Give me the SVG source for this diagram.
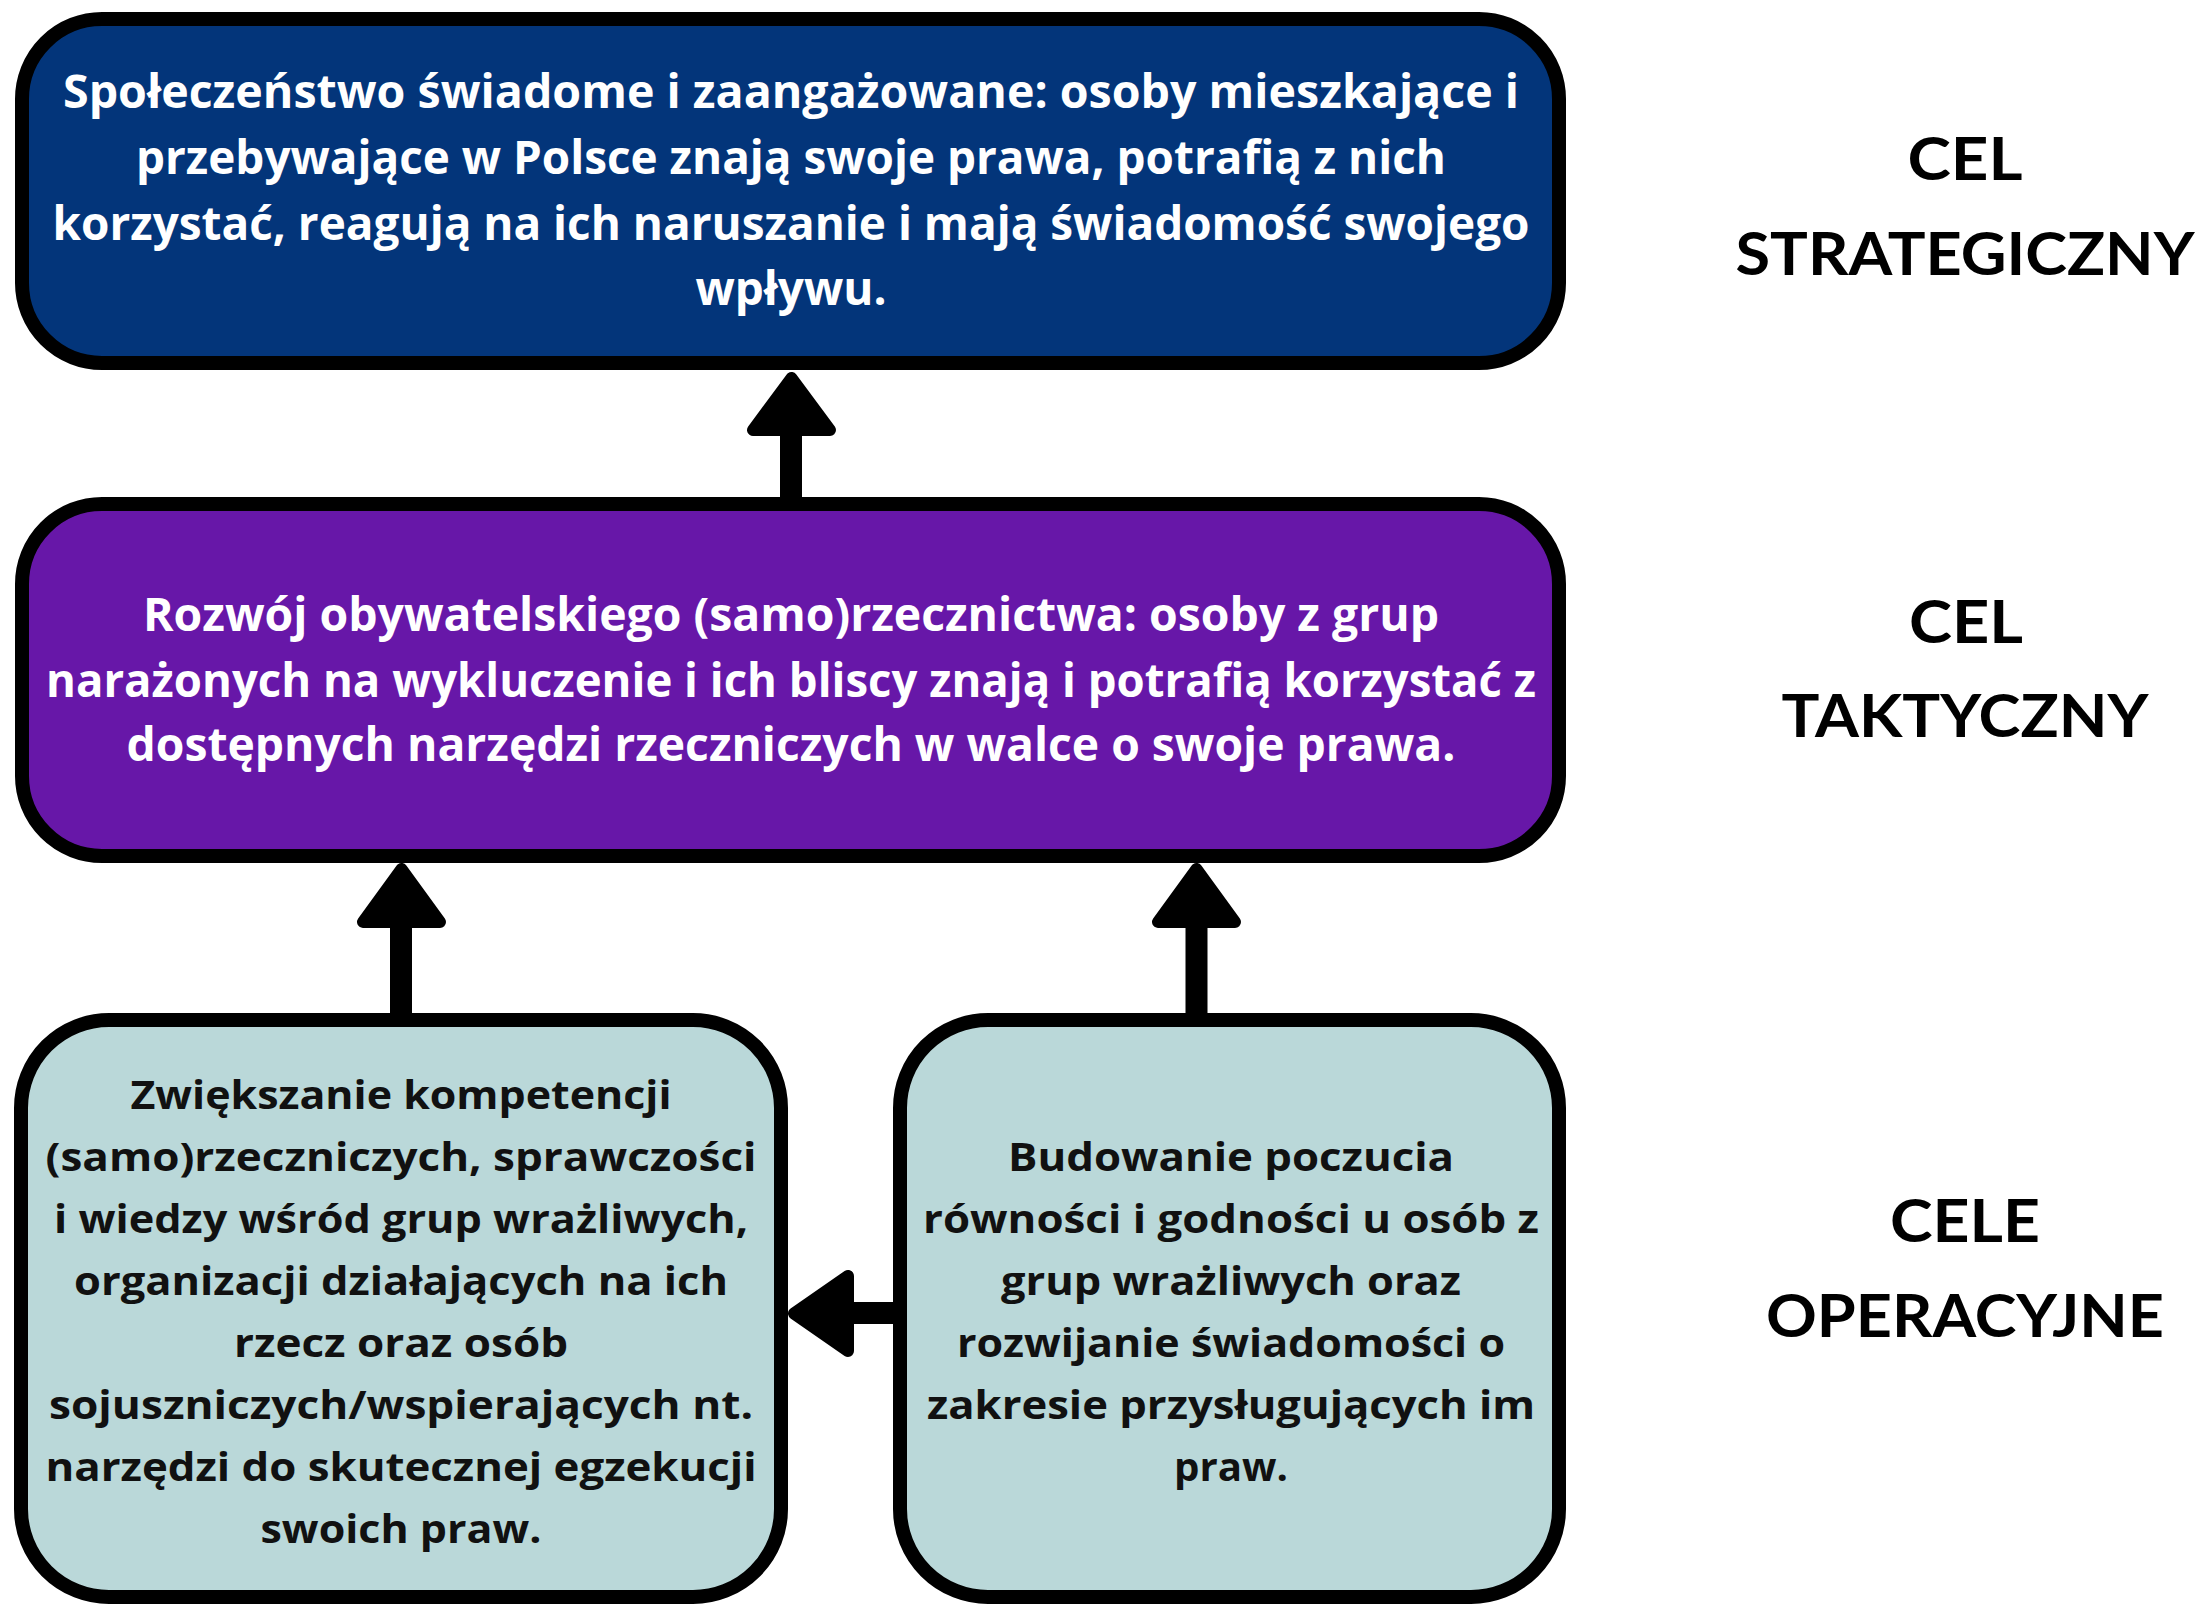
<svg xmlns="http://www.w3.org/2000/svg" width="2201" height="1608" viewBox="0 0 2201 1608">
<style>
.box{stroke:#000;stroke-width:14}
.strat{fill:#03357A}
.takt{fill:#6717A8}
.oper{fill:#BAD8D9}
.t{font-family:"Open Sans","Noto Sans",sans-serif;font-weight:700;text-anchor:middle}
.w{fill:#fff;font-size:46px}
.k{fill:#111;font-size:40px}
.lab{font-family:Lato,"Open Sans",sans-serif;font-weight:700;font-size:60px;fill:#000;text-anchor:middle}
.shaft{fill:none;stroke:#000;stroke-width:22}
.head{fill:#000;stroke:#000;stroke-width:12;stroke-linejoin:round}
</style>
<rect width="2201" height="1608" fill="#fff"/>
<g id="connectors">
  <path class="shaft" d="M791 428 V498"/>
  <polygon class="head" points="791.5,378 753,430 830,430"/>
  <path class="shaft" d="M401 920 V1014"/>
  <polygon class="head" points="401.5,869 363,922 440,922"/>
  <path class="shaft" d="M1196.5 920 V1014"/>
  <polygon class="head" points="1196.5,869 1158,922 1235,922"/>
  <path class="shaft" d="M846 1313 H894"/>
  <polygon class="head" points="794,1313.5 848,1276 848,1351"/>
</g>
<g id="node-strategic">
  <rect class="box strat" x="22" y="19" width="1537" height="344" rx="80" ry="80"/>
  <text class="t w" x="791" y="108" textLength="1456" lengthAdjust="spacingAndGlyphs">Społeczeństwo świadome i zaangażowane: osoby mieszkające i</text>
  <text class="t w" x="791" y="174" textLength="1310" lengthAdjust="spacingAndGlyphs">przebywające w Polsce znają swoje prawa, potrafią z nich</text>
  <text class="t w" x="791" y="240" textLength="1477" lengthAdjust="spacingAndGlyphs">korzystać, reagują na ich naruszanie i mają świadomość swojego</text>
  <text class="t w" x="791" y="305" textLength="191" lengthAdjust="spacingAndGlyphs">wpływu.</text>
</g>
<g id="node-tactical">
  <rect class="box takt" x="22" y="504" width="1537" height="352" rx="80" ry="80"/>
  <text class="t w" x="791" y="631" textLength="1296" lengthAdjust="spacingAndGlyphs">Rozwój obywatelskiego (samo)rzecznictwa: osoby z grup</text>
  <text class="t w" x="791" y="697" textLength="1490" lengthAdjust="spacingAndGlyphs">narażonych na wykluczenie i ich bliscy znają i potrafią korzystać z</text>
  <text class="t w" x="791" y="761" textLength="1329" lengthAdjust="spacingAndGlyphs">dostępnych narzędzi rzeczniczych w walce o swoje prawa.</text>
</g>
<g id="node-oper-1">
  <rect class="box oper" x="21" y="1020" width="760" height="577" rx="88" ry="88"/>
  <text class="t k" x="401" y="1109" textLength="541" lengthAdjust="spacingAndGlyphs">Zwiększanie kompetencji</text>
  <text class="t k" x="401" y="1171" textLength="711" lengthAdjust="spacingAndGlyphs">(samo)rzeczniczych, sprawczości</text>
  <text class="t k" x="401" y="1233" textLength="694" lengthAdjust="spacingAndGlyphs">i wiedzy wśród grup wrażliwych,</text>
  <text class="t k" x="401" y="1295" textLength="654" lengthAdjust="spacingAndGlyphs">organizacji działających na ich</text>
  <text class="t k" x="401" y="1357" textLength="334" lengthAdjust="spacingAndGlyphs">rzecz oraz osób</text>
  <text class="t k" x="401" y="1419" textLength="704" lengthAdjust="spacingAndGlyphs">sojuszniczych/wspierających nt.</text>
  <text class="t k" x="401" y="1481" textLength="711" lengthAdjust="spacingAndGlyphs">narzędzi do skutecznej egzekucji</text>
  <text class="t k" x="401" y="1543" textLength="281" lengthAdjust="spacingAndGlyphs">swoich praw.</text>
</g>
<g id="node-oper-2">
  <rect class="box oper" x="900" y="1020" width="659" height="577" rx="88" ry="88"/>
  <text class="t k" x="1231" y="1171" textLength="446" lengthAdjust="spacingAndGlyphs">Budowanie poczucia</text>
  <text class="t k" x="1231" y="1233" textLength="616" lengthAdjust="spacingAndGlyphs">równości i godności u osób z</text>
  <text class="t k" x="1231" y="1295" textLength="460" lengthAdjust="spacingAndGlyphs">grup wrażliwych oraz</text>
  <text class="t k" x="1231" y="1357" textLength="548" lengthAdjust="spacingAndGlyphs">rozwijanie świadomości o</text>
  <text class="t k" x="1231" y="1419" textLength="608" lengthAdjust="spacingAndGlyphs">zakresie przysługujących im</text>
  <text class="t k" x="1231" y="1481" textLength="114" lengthAdjust="spacingAndGlyphs">praw.</text>
</g>
<g id="label-strategic">
  <text class="lab" x="1965" y="180" textLength="115" lengthAdjust="spacingAndGlyphs">CEL</text>
  <text class="lab" x="1965" y="275" textLength="459" lengthAdjust="spacingAndGlyphs">STRATEGICZNY</text>
</g>
<g id="label-tactical">
  <text class="lab" x="1966" y="643" textLength="114" lengthAdjust="spacingAndGlyphs">CEL</text>
  <text class="lab" x="1965" y="737" textLength="367" lengthAdjust="spacingAndGlyphs">TAKTYCZNY</text>
</g>
<g id="label-operational">
  <text class="lab" x="1965" y="1242" textLength="150" lengthAdjust="spacingAndGlyphs">CELE</text>
  <text class="lab" x="1965" y="1337" textLength="398" lengthAdjust="spacingAndGlyphs">OPERACYJNE</text>
</g>
</svg>
